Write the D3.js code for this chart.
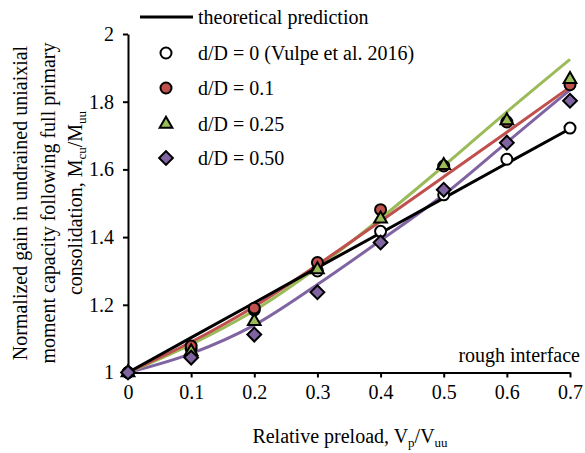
<!DOCTYPE html>
<html>
<head>
<meta charset="utf-8">
<script src="https://cdn.jsdelivr.net/npm/d3@7"></script>
<style>
html,body{margin:0;padding:0;background:#fff;}
*{font-family:"Liberation Serif","Times New Roman",serif;}
</style>
</head>
<body>
<svg id="chart" width="585" height="453" font-family="Liberation Serif"></svg>
<script>
// ---- data ----
const preload = [0, 0.1, 0.2, 0.3, 0.4, 0.5, 0.6, 0.7];
const xTicks = [0, 0.1, 0.2, 0.3, 0.4, 0.5, 0.6, 0.7];
const yTicks = [1, 1.2, 1.4, 1.6, 1.8, 2];
const theoretical = [1, 1.103, 1.206, 1.31, 1.412, 1.515, 1.618, 1.72];
const dD0   = [1, 1.07, 1.185, 1.30, 1.417, 1.525, 1.63, 1.722];
const dD01  = [1, 1.078, 1.19, 1.325, 1.481, 1.61, 1.74, 1.85];
const dD025 = [1, 1.062, 1.151, 1.304, 1.454, 1.612, 1.744, 1.866];
const dD050 = [1, 1.044, 1.112, 1.237, 1.384, 1.54, 1.679, 1.803];
const fit01  = [1, 1.09, 1.195, 1.318, 1.447, 1.578, 1.71, 1.843];
const fit025 = [1, 1.083, 1.183, 1.31, 1.455, 1.61, 1.77, 1.925];
const fit050 = [1, 1.056, 1.14, 1.26, 1.39, 1.525, 1.68, 1.835];
const legendLabels = ["theoretical prediction", "d/D = 0 (Vulpe et al. 2016)", "d/D = 0.1", "d/D = 0.25", "d/D = 0.50"];

const red = "#C0504D", green = "#9BBB59", purple = "#8064A2";
const FS = 20;
const styleStr = s => `font-family: "Liberation Serif"; font-size: ${s}px; fill: #000;`;

const svg = d3.select("#chart");
const x = d3.scaleLinear().domain([0, 0.7]).range([128, 570]);
const y = d3.scaleLinear().domain([1, 2]).range([372.5, 34]);

// axes
const xAxis = svg.append("g").attr("transform", "translate(0,372.5)")
  .call(d3.axisBottom(x).tickValues(xTicks).tickSize(5).tickSizeOuter(0).tickPadding(7).tickFormat(d3.format("")));
const yAxis = svg.append("g").attr("transform", "translate(128,0)")
  .call(d3.axisLeft(y).tickValues(yTicks).tickSize(5).tickSizeOuter(0).tickPadding(9).tickFormat(d3.format("")));
[xAxis, yAxis].forEach(g => {
  g.attr("font-family", "Liberation Serif").attr("font-size", FS);
  g.selectAll("path.domain").attr("stroke", "#000").attr("stroke-width", 2);
  g.selectAll(".tick line").attr("stroke", "#000").attr("stroke-width", 2);
  g.selectAll(".tick text").attr("style", styleStr(FS));
});

// lines
const line = d3.line().x((d, i) => x(preload[i])).y(d => y(d));
const curve = d3.line().x((d, i) => x(preload[i])).y(d => y(d)).curve(d3.curveMonotoneX);
svg.append("path").datum(fit050).attr("d", curve).attr("fill", "none").attr("stroke", purple).attr("stroke-width", 3);
svg.append("path").datum(fit025).attr("d", curve).attr("fill", "none").attr("stroke", green).attr("stroke-width", 3);
svg.append("path").datum(fit01).attr("d", curve).attr("fill", "none").attr("stroke", red).attr("stroke-width", 3);
svg.append("path").datum(theoretical).attr("d", line).attr("fill", "none").attr("stroke", "#000").attr("stroke-width", 3);

// markers
const circleSym = d3.symbol().type(d3.symbolCircle).size(95);
const triSym = d3.symbol().type(d3.symbolTriangle).size(70);
const diaSym = d3.symbol().type(d3.symbolSquare).size(95);
function markerTransform(sym, px, py) {
  return `translate(${px},${py})` + (sym === diaSym ? " rotate(45)" : "");
}
function drawMarkers(vals, sym, fill) {
  svg.append("g").selectAll("path").data(vals).join("path")
    .attr("d", sym)
    .attr("transform", (d, i) => markerTransform(sym, x(preload[i]), y(d)))
    .attr("fill", fill).attr("stroke", "#000").attr("stroke-width", 2);
}
drawMarkers(dD0, circleSym, "#fff");
drawMarkers(dD01, circleSym, red);
drawMarkers(dD025, triSym, green);
drawMarkers(dD050, diaSym, purple);

function txt(sel, size) {
  return sel.attr("style", styleStr(size || FS));
}

// legend
const lg = svg.append("g");
lg.append("line").attr("x1", 140).attr("x2", 193).attr("y1", 17).attr("y2", 17).attr("stroke", "#000").attr("stroke-width", 3);
const legSyms = [[circleSym, "#fff"], [circleSym, red], [triSym, green], [diaSym, purple]];
const rowsY = [17, 53, 88, 124, 158];
legSyms.forEach((s, i) => {
  lg.append("path").attr("d", s[0]).attr("transform", markerTransform(s[0], 166, rowsY[i + 1]))
    .attr("fill", s[1]).attr("stroke", "#000").attr("stroke-width", 2);
});
legendLabels.forEach((t, i) => {
  txt(lg.append("text").attr("x", 198).attr("y", rowsY[i] + 7)).text(t);
});

// annotation
txt(svg.append("text").attr("x", 580).attr("y", 362).attr("text-anchor", "end")).text("rough interface");

// x axis title
const xt = txt(svg.append("text").attr("x", 350).attr("y", 443).attr("text-anchor", "middle"));
xt.append("tspan").text("Relative preload, V");
xt.append("tspan").attr("dy", 4).attr("style", "font-size: 13px").text("p");
xt.append("tspan").attr("dy", -4).text("/V");
xt.append("tspan").attr("dy", 4).attr("style", "font-size: 13px").text("uu");

// y axis title
const yt = svg.append("g").attr("transform", "translate(0,203) rotate(-90)");
txt(yt.append("text").attr("x", 0).attr("y", 27).attr("text-anchor", "middle"))
  .text("Normalized gain in undrained uniaixial");
txt(yt.append("text").attr("x", 0).attr("y", 55).attr("text-anchor", "middle"))
  .text("moment capacity following full primary");
const t3 = txt(yt.append("text").attr("x", 0).attr("y", 82).attr("text-anchor", "middle"));
t3.append("tspan").text("consolidation, M");
t3.append("tspan").attr("dy", 4).attr("style", "font-size: 13px").text("cu");
t3.append("tspan").attr("dy", -4).text("/M");
t3.append("tspan").attr("dy", 4).attr("style", "font-size: 13px").text("uu");
</script>
</body>
</html>
